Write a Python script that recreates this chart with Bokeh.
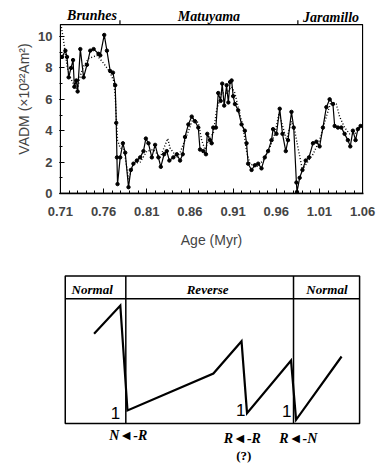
from bokeh.plotting import figure
from bokeh.models import Range1d, FixedTicker
from bokeh.layouts import column
from bokeh.embed import file_html
from bokeh.resources import INLINE
from bokeh.core.properties import value

# ---------------- top panel data: VADM record ----------------
age_solid = [0.712, 0.7158, 0.7177, 0.7196, 0.7224, 0.7247, 0.7262, 0.7285, 0.7300, 0.7331,
             0.7369, 0.7408, 0.7446, 0.7485, 0.7542, 0.7562, 0.7608, 0.7639, 0.7677, 0.7709,
             0.7735, 0.7747, 0.7755, 0.7762, 0.7793, 0.7824, 0.7851, 0.7889, 0.7916, 0.7946,
             0.7986, 0.8024, 0.8062, 0.8090, 0.8120, 0.8159, 0.8197, 0.8235, 0.8263, 0.8301,
             0.8332, 0.8362, 0.8408, 0.8448, 0.8486, 0.8517, 0.8543, 0.8582, 0.8621, 0.8659,
             0.8697, 0.8717, 0.8755, 0.8786, 0.8801, 0.8832, 0.8852, 0.8870, 0.8901, 0.8928,
             0.8956, 0.8974, 0.8997, 0.9025, 0.9045, 0.9065, 0.9083, 0.9101, 0.9121, 0.9159,
             0.9198, 0.9236, 0.9256, 0.9274, 0.9314, 0.9352, 0.9390, 0.9429, 0.9467, 0.9505,
             0.9545, 0.9563, 0.9602, 0.9640, 0.9672, 0.9710, 0.9736, 0.9776, 0.9802, 0.9833,
             0.9840, 0.9871, 0.9903, 0.9941, 0.9979, 1.0025, 1.0064, 1.0102, 1.0140, 1.0180,
             1.0218, 1.0256, 1.0276, 1.0314, 1.0353, 1.0391, 1.0429, 1.0457, 1.0487, 1.0518,
             1.0545, 1.0576]
vadm_solid = [8.7, 9.1, 8.7, 7.4, 8.0, 8.5, 6.8, 7.2, 6.5, 9.2,
              7.4, 8.2, 9.1, 9.2, 8.9, 8.8, 10.1, 9.1, 7.8, 7.7,
              6.9, 4.5, 2.3, 0.6, 2.3, 3.2, 2.6, 0.4, 1.5, 1.9,
              2.1, 2.3, 2.7, 3.5, 3.2, 2.3, 3.1, 2.3, 1.7, 2.5,
              2.7, 2.1, 2.3, 2.5, 2.1, 2.5, 3.6, 4.4, 4.9, 4.6,
              4.2, 2.8, 2.7, 2.5, 3.8, 3.4, 3.2, 4.2, 4.2, 6.4,
              5.9, 7.0, 5.6, 6.9, 5.8, 7.1, 7.2, 6.2, 5.7, 5.3,
              4.4, 4.0, 3.2, 1.9, 1.5, 1.8, 1.9, 1.6, 2.3, 2.7,
              3.4, 4.1, 3.8, 5.4, 3.8, 2.7, 3.4, 5.2, 4.2, 0.7,
              0.1, 1.0, 1.5, 2.1, 2.3, 3.2, 3.3, 3.0, 4.2, 5.5,
              6.0, 5.7, 4.3, 4.2, 4.2, 3.8, 3.4, 3.0, 4.0, 3.4,
              4.1, 4.3]

age_dotted = [0.7112, 0.7138, 0.7158, 0.7181, 0.7215, 0.7250, 0.7296, 0.7331, 0.7369, 0.7427,
              0.7524, 0.7600, 0.7639, 0.7677, 0.7715, 0.7735, 0.7747, 0.7762, 0.7793, 0.7839,
              0.7889, 0.7946, 0.8024, 0.8101, 0.8177, 0.8255, 0.8344, 0.8370, 0.8448, 0.8486,
              0.8543, 0.8639, 0.8697, 0.8736, 0.8774, 0.8832, 0.8870, 0.8909, 0.8967, 0.9025,
              0.9083, 0.9121, 0.9159, 0.9217, 0.9256, 0.9294, 0.9371, 0.9448, 0.9525, 0.9583,
              0.9632, 0.9679, 0.9718, 0.9775, 0.9814, 0.9852, 0.9903, 0.9949, 1.0025, 1.0102,
              1.0180, 1.0237, 1.0295, 1.0333, 1.0391, 1.0449, 1.0506, 1.0576]
vadm_dotted = [10.6, 9.7, 8.9, 8.0, 7.4, 7.0, 6.6, 7.5, 8.1, 8.6,
               8.8, 8.3, 8.0, 7.7, 7.2, 6.3, 4.9, 3.4, 2.9, 2.8,
               0.9, 1.9, 2.0, 2.7, 2.8, 2.3, 3.5, 2.9, 2.3, 2.6,
               3.4, 4.8, 4.5, 3.4, 2.8, 3.6, 3.8, 5.3, 6.4, 6.4,
               6.8, 6.4, 5.5, 4.2, 2.7, 1.9, 1.7, 2.1, 2.9, 3.8,
               5.1, 4.2, 3.4, 4.6, 4.0, 2.9, 1.5, 1.9, 2.5, 3.4,
               4.9, 5.9, 5.7, 4.9, 4.2, 3.8, 3.8, 4.2]

x_major_ticks = [0.71, 0.76, 0.81, 0.86, 0.91, 0.96, 1.01, 1.06]
x_minor_ticks = [0.71, 0.72, 0.73, 0.74, 0.75, 0.76, 0.77, 0.78, 0.79, 0.80, 0.81, 0.82,
                 0.83, 0.84, 0.85, 0.86, 0.87, 0.88, 0.89, 0.90, 0.91, 0.92, 0.93, 0.94,
                 0.95, 0.96, 0.97, 0.98, 0.99, 1.00, 1.01, 1.02, 1.03, 1.04, 1.05, 1.06]
y_major_ticks = [0, 2, 4, 6, 8, 10]
y_minor_ticks = [0, 1, 2, 3, 4, 5, 6, 7, 8, 9, 10]

chron_names = ["Brunhes", "Matuyama", "Jaramillo"]
chron_label_age = [0.7466, 0.8820, 1.0235]
chron_boundaries = [0.779, 0.985]

# ---------------- bottom panel data: schematic ----------------
state_names = ["Normal", "Reverse", "Normal"]
state_label_age = [0.7377, 0.8763, 1.0195]
state_edges = [0.7054, 0.7781, 0.9794, 1.0587]
saw_age = [0.7400, 0.7715, 0.7801, 0.8832, 0.9170, 0.9236, 0.9764, 0.9825, 1.0371]
saw_intensity = [8.97, 11.8, 1.3, 5.0, 8.23, 1.03, 6.3, 0.37, 6.7]
mark_age = [0.7658, 0.9160, 0.9713]
transition_names = ["N\u25c4-R", "R\u25c4-R", "R\u25c4-N"]
transition_age = [0.7810, 0.9179, 0.9852]

SERIF = value("Liberation Serif")

# ================= top figure =================
x_lo, x_hi = 0.71, 1.06
y_top = 10.76
p1 = figure(width=380, height=250, output_backend="svg", toolbar_location=None,
            x_range=Range1d(0.709, 1.061), y_range=Range1d(0, 12.04),
            min_border_left=59, min_border_right=17, min_border_top=4, min_border_bottom=57)
p1.grid.visible = False
p1.outline_line_color = None

# plot frame
p1.quad(left=[x_lo], right=[x_hi], bottom=[0], top=[y_top], fill_color=None,
        line_color="black", line_width=1.3)
# chron boundary ticks on top of frame
p1.segment(x0=chron_boundaries, x1=chron_boundaries, y0=[y_top] * 2, y1=[y_top + 0.27] * 2,
           line_color="black", line_width=1.2)
p1.text(x=chron_label_age, y=[11.33, 11.28, 11.22], text=chron_names, text_align="center",
        text_baseline="middle", text_font=SERIF, text_font_style="bold italic",
        text_font_size="14px", text_color="black")

p1.line(age_dotted, vadm_dotted, line_color="black", line_width=1.4, line_dash="1 2")
p1.line(age_solid, vadm_solid, line_color="black", line_width=1.2)
p1.scatter(age_solid, vadm_solid, size=3.4, color="black")

xa = p1.xaxis[0]
xa.ticker = FixedTicker(ticks=x_major_ticks, minor_ticks=x_minor_ticks)
xa.major_label_overrides = {t: f"{t:.2f}" for t in x_major_ticks}
xa.major_tick_in = 5
xa.major_tick_out = 0
xa.minor_tick_in = 3
xa.minor_tick_out = 0
xa.axis_line_width = 1.3
xa.major_label_standoff = 13
xa.major_label_text_font = "Liberation Sans"
xa.major_label_text_font_style = "bold"
xa.major_label_text_font_size = "13px"
xa.axis_label = "Age (Myr)"
xa.axis_label_text_font = "Liberation Sans"
xa.axis_label_text_font_style = "normal"
xa.axis_label_text_font_size = "14px"
xa.axis_label_standoff = 13

ya = p1.yaxis[0]
ya.ticker = FixedTicker(ticks=y_major_ticks, minor_ticks=y_minor_ticks)
ya.axis_line_color = None
ya.major_tick_in = 5
ya.major_tick_out = 0
ya.minor_tick_in = 3
ya.minor_tick_out = 0
ya.major_label_standoff = 7
ya.major_label_text_font = "Liberation Sans"
ya.major_label_text_font_style = "bold"
ya.major_label_text_font_size = "13px"
ya.axis_label = "VADM (\u00d710\u00b2\u00b2Am\u00b2)"
ya.axis_label_text_font = "Liberation Sans"
ya.axis_label_text_font_style = "normal"
ya.axis_label_text_font_size = "14px"
ya.axis_label_standoff = 3

# ================= bottom figure =================
p2 = figure(width=380, height=215, output_backend="svg", toolbar_location=None,
            x_range=Range1d(0.6985, 1.0634), y_range=Range1d(-4.2, 17.3),
            x_axis_type=None, y_axis_type=None,
            min_border_left=50, min_border_right=14, min_border_top=0, min_border_bottom=0)
p2.grid.visible = False
p2.outline_line_color = None

box_top = 14.75
header_base = 12.47
p2.quad(left=[state_edges[0]], right=[state_edges[-1]], bottom=[0], top=[box_top],
        fill_color=None, line_color="black", line_width=1.5)
p2.segment(x0=[state_edges[0]], x1=[state_edges[-1]], y0=[header_base], y1=[header_base],
           line_color="black", line_width=1.5)
p2.segment(x0=state_edges[1:3], x1=state_edges[1:3], y0=[0, 0], y1=[box_top, box_top],
           line_color="black", line_width=1.5)

p2.text(x=state_label_age, y=[13.45] * 3, text=state_names, text_align="center",
        text_baseline="middle", text_font=SERIF, text_font_style="bold italic",
        text_font_size="13px", text_color="black")

p2.line(saw_age, saw_intensity, line_color="black", line_width=2.2, line_join="miter")

p2.text(x=mark_age, y=[1.1, 1.4, 1.3], text=["1", "1", "1"], text_align="center",
        text_baseline="middle", text_font=value("Liberation Sans"),
        text_font_size="17px", text_color="black")

p2.text(x=transition_age, y=[-1.2, -1.53, -1.53], text=transition_names, text_align="center",
        text_baseline="middle", text_font=SERIF, text_font_style="bold italic",
        text_font_size="14px", text_color="black")
p2.text(x=[0.9198], y=[-3.2], text=["(?)"], text_align="center", text_baseline="middle",
        text_font=SERIF, text_font_style="bold", text_font_size="13px", text_color="black")

layout = column(p1, p2, spacing=0)
open("out.html", "w").write(file_html(layout, INLINE))
